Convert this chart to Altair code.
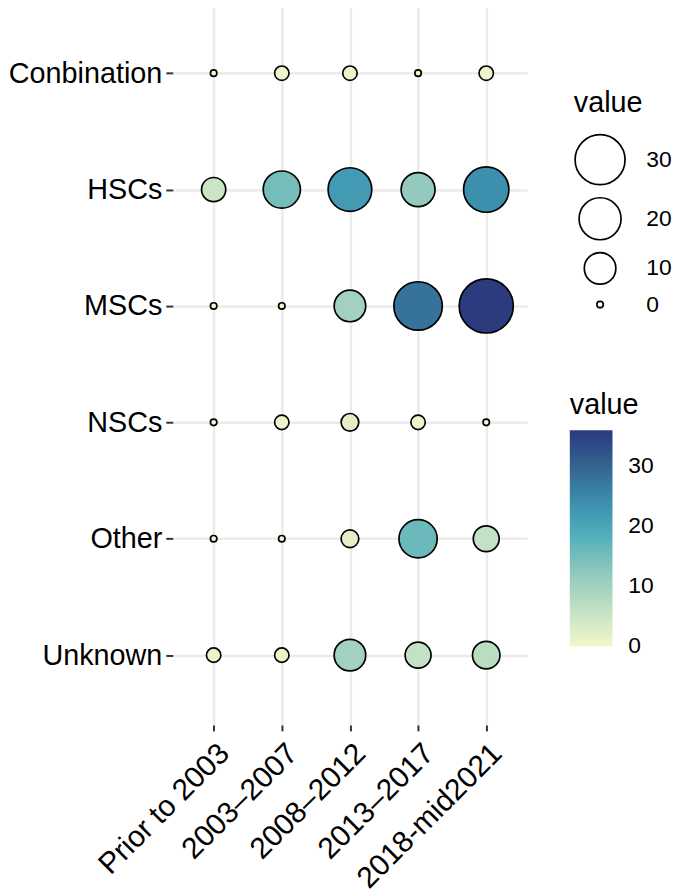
import math
import altair as alt
import pandas as pd

categories = ["Conbination", "HSCs", "MSCs", "NSCs", "Other", "Unknown"]
periods = ["Prior to 2003", "2003–2007", "2008–2012", "2013–2017", "2018-mid2021"]

conbination = [0, 1, 1, 0, 1]
hscs = [5, 15, 22, 12, 24]
mscs = [0, 0, 10, 28, 36]
nscs = [0, 1, 2, 1, 0]
other = [0, 0, 2, 16, 6]
unknown = [1, 1, 10, 6, 7]

size_breaks = [30, 20, 10, 0]
color_breaks = [0, 10, 20, 30]
# first stop sits a hair below 0 so the "0" label is centred on the bar's end
color_stops = [-0.02, 6, 12, 18, 24, 30, 36]
color_range = ["#f6f6cc", "#c3e1c4", "#93c9bf", "#55b1bb", "#3d8fae", "#36638f", "#2c3a7e"]

rows = []
for cat, vals in zip(categories, [conbination, hscs, mscs, nscs, other, unknown]):
    for p, v in zip(periods, vals):
        rows.append({"category": cat, "period": p, "value": v})
df = pd.DataFrame(rows)

FONT = "Liberation Sans"


def s_of(v):
    return (6.5 + 48 * math.sqrt(v / 36)) ** 2


size_vals = [s_of(v) for v in size_breaks]

chart = (
    alt.Chart(df)
    .transform_calculate(s="pow(6.5 + 48*sqrt(datum.value/36), 2)")
    .mark_circle(opacity=1, stroke="black", strokeWidth=1.7)
    .encode(
        x=alt.X(
            "period:N",
            sort=periods,
            scale=alt.Scale(padding=0.6),
            axis=alt.Axis(
                title=None,
                labelAngle=315,
                labelAlign="right",
                labelBaseline="top",
                labelFontSize=30,
                labelFont=FONT,
                labelColor="black",
                labelOffset=0,
                labelPadding=7,
                labelLimit=0,
                tickColor="#333333",
                tickSize=6,
                tickWidth=2,
                grid=True,
                gridColor="#ebebeb",
                gridWidth=2.5,
                domain=False,
            ),
        ),
        y=alt.Y(
            "category:N",
            sort=categories,
            scale=alt.Scale(padding=0.6),
            axis=alt.Axis(
                title=None,
                labelFontSize=29,
                labelFont=FONT,
                labelColor="black",
                labelPadding=4,
                labelLimit=0,
                tickColor="#333333",
                tickSize=7,
                tickWidth=2,
                grid=True,
                gridColor="#ebebeb",
                gridWidth=2.5,
                domain=False,
            ),
        ),
        size=alt.Size(
            "s:Q",
            scale=alt.Scale(domain=[0, 3000], range=[0, 3000]),
            legend=alt.Legend(
                title="value",
                values=size_vals,
                labelExpr="format(round(36*pow((sqrt(datum.value)-6.5)/48,2)),'d')",
                orient="none",
                legendX=404,
                legendY=86,
                titleFontSize=29,
                titleFont=FONT,
                titleFontWeight="normal",
                titleColor="black",
                titlePadding=16,
                labelFontSize=23,
                labelFont=FONT,
                labelColor="black",
                labelOffset=20,
                symbolFillColor="white",
                symbolStrokeColor="black",
                symbolStrokeWidth=1.7,
                symbolType="circle",
                rowPadding=5,
            ),
        ),
        color=alt.Color(
            "value:Q",
            scale=alt.Scale(domain=color_stops, range=color_range),
            legend=alt.Legend(
                title="value",
                values=color_breaks,
                orient="none",
                legendX=400,
                legendY=391,
                gradientLength=218,
                gradientThickness=43,
                gradientStrokeWidth=0,
                titleFontSize=29,
                titleFont=FONT,
                titleFontWeight="normal",
                titleColor="black",
                titlePadding=10,
                labelFontSize=23,
                labelFont=FONT,
                labelColor="black",
                labelOffset=16,
            ),
        ),
    )
    .properties(
        width=357,
        height=727,
        padding={"left": 0, "top": -8, "right": 5, "bottom": 0},
    )
    .configure_view(stroke=None)
)

chart.save("out.html", embed_options={"renderer": "svg", "actions": False})
